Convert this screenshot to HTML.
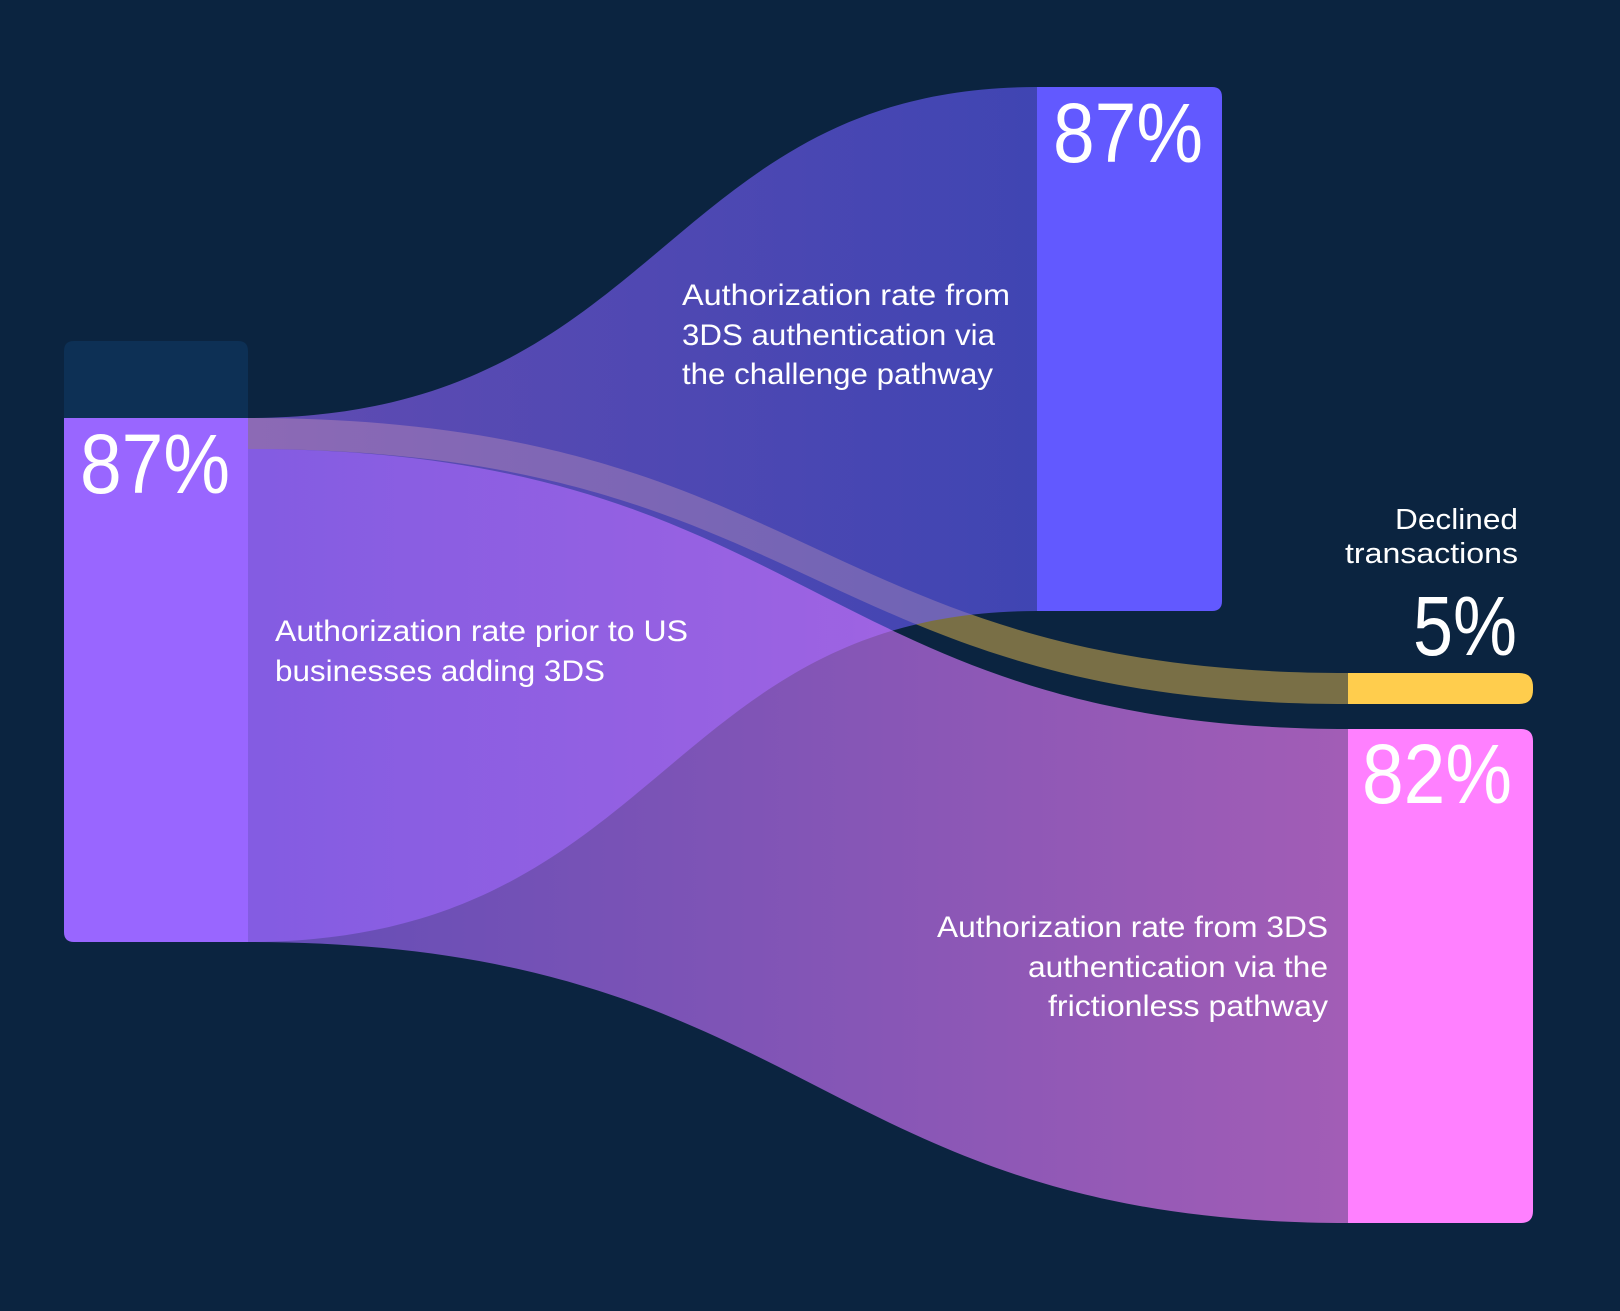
<!DOCTYPE html>
<html>
<head>
<meta charset="utf-8">
<style>
  html,body{margin:0;padding:0;background:#0b2440;}
  svg{display:block;}
  text{font-family:"Liberation Sans", sans-serif; fill:#ffffff;}
</style>
</head>
<body>
<svg width="1620" height="1311" viewBox="0 0 1620 1311" xmlns="http://www.w3.org/2000/svg">
  <defs>
    <linearGradient id="gChal" gradientUnits="userSpaceOnUse" x1="248" y1="0" x2="1037" y2="0">
      <stop offset="0" stop-color="#9966ff"/>
      <stop offset="1" stop-color="#635bff"/>
    </linearGradient>
    <linearGradient id="gFric" gradientUnits="userSpaceOnUse" x1="248" y1="0" x2="1348" y2="0">
      <stop offset="0" stop-color="#9966ff"/>
      <stop offset="1" stop-color="#ff80ff"/>
    </linearGradient>
  </defs>
  <rect x="0" y="0" width="1620" height="1311" fill="#0b2440"/>

  <!-- Declined flow (yellow) -->
  <path d="M248,418 C813,418 813,673 1348,673 L1348,704 C813,704 813,449 248,449 Z" fill="#ffcc4d" fill-opacity="0.45"/>

  <!-- Challenge flow -->
  <path d="M248,418 C662,418 662,87 1037,87 L1037,611 C662,611 662,942 248,942 Z" fill="url(#gChal)" fill-opacity="0.6"/>

  <!-- Frictionless flow -->
  <path d="M248,449 C813,449 813,729 1348,729 L1348,1223 C813,1223 813,942 248,942 Z" fill="url(#gFric)" fill-opacity="0.62"/>

  <!-- Left node -->
  <path d="M64,418 L64,351 Q64,341 74,341 L238,341 Q248,341 248,351 L248,418 Z" fill="#0d3055"/>
  <path d="M64,418 L248,418 L248,942 L74,942 Q64,942 64,932 Z" fill="#9966ff"/>

  <!-- Top right node -->
  <path d="M1037,87 L1212,87 Q1222,87 1222,97 L1222,601 Q1222,611 1212,611 L1037,611 Z" fill="#6259ff"/>

  <!-- Yellow node -->
  <path d="M1348,673 L1519,673 Q1533,673 1533,687 L1533,690 Q1533,704 1519,704 L1348,704 Z" fill="#ffcd4d"/>

  <!-- Pink node -->
  <path d="M1348,729 L1521,729 Q1533,729 1533,741 L1533,1211 Q1533,1223 1521,1223 L1348,1223 Z" fill="#ff80ff"/>

  <!-- Big numbers -->
  <text x="80" y="493" font-size="84" textLength="150" lengthAdjust="spacingAndGlyphs">87%</text>
  <text x="1053" y="162" font-size="84" textLength="150" lengthAdjust="spacingAndGlyphs">87%</text>
  <text x="1362" y="803" font-size="84" textLength="150" lengthAdjust="spacingAndGlyphs">82%</text>
  <text x="1413" y="655" font-size="84" textLength="104" lengthAdjust="spacingAndGlyphs">5%</text>

  <!-- Declined label -->
  <text x="1395" y="529" font-size="29" textLength="123" lengthAdjust="spacingAndGlyphs">Declined</text>
  <text x="1345" y="563" font-size="29" textLength="173" lengthAdjust="spacingAndGlyphs">transactions</text>

  <!-- Challenge label -->
  <text x="682" y="305" font-size="30" textLength="328" lengthAdjust="spacingAndGlyphs">Authorization rate from</text>
  <text x="682" y="345" font-size="30" textLength="313" lengthAdjust="spacingAndGlyphs">3DS authentication via</text>
  <text x="682" y="384" font-size="30" textLength="311" lengthAdjust="spacingAndGlyphs">the challenge pathway</text>

  <!-- Prior label -->
  <text x="275" y="641" font-size="30" textLength="413" lengthAdjust="spacingAndGlyphs">Authorization rate prior to US</text>
  <text x="275" y="681" font-size="30" textLength="330" lengthAdjust="spacingAndGlyphs">businesses adding 3DS</text>

  <!-- Frictionless label -->
  <text x="937" y="937" font-size="30" textLength="391" lengthAdjust="spacingAndGlyphs">Authorization rate from 3DS</text>
  <text x="1028" y="977" font-size="30" textLength="300" lengthAdjust="spacingAndGlyphs">authentication via the</text>
  <text x="1048" y="1016" font-size="30" textLength="280" lengthAdjust="spacingAndGlyphs">frictionless pathway</text>
</svg>
</body>
</html>
